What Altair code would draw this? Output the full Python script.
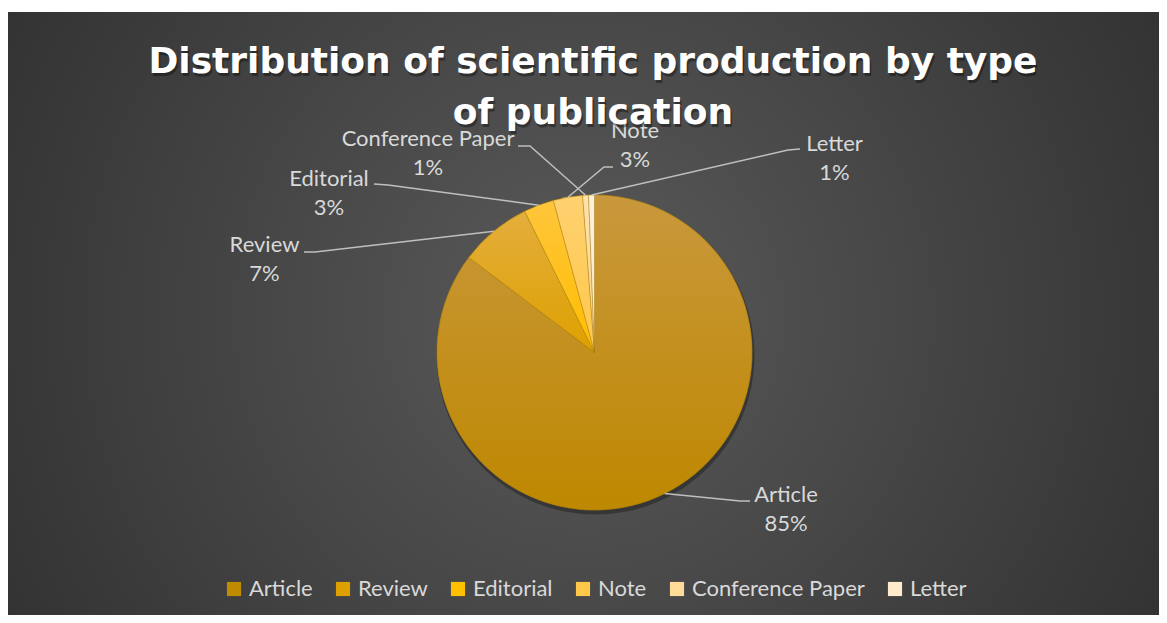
import math
import altair as alt
import pandas as pd

# ---------------- data ----------------
categories = ["Article", "Review", "Editorial", "Note", "Conference Paper", "Letter"]
shares = [85.3, 7.4, 3.1, 3.0, 0.6, 0.6]          # percent of publications
title_lines = ["Distribution of scientific production by type", "of publication"]

# ---------------- styles / layout ----------------
W, H = 1151, 607
CX, CY = 586.5, 344.5
R = 157.5
FONT = "Lato"
TXT = "#D9D9D9"
LINE = "#BFBFBF"
FS = 22

legend_colors = ["#BF8B00", "#DEA000", "#FFC000", "#FFC84A", "#FFDB9A", "#FFEBCC"]
slice_grad = {
    "Article": ("#C9983C", "#BE8800"),
    "Review": ("#E3AE3C", "#DEA000"),
    "Editorial": ("#FFC53C", "#FFBE00"),
    "Note": ("#FFD170", "#FFC84A"),
    "Conference Paper": ("#FFE2AC", "#FFD88F"),
    "Letter": ("#FFF1DA", "#FFE7C0"),
}
# label placement relative to pie centre: (text x, name baseline y)
label_pos = {
    "Article": (191.5, 149.5),
    "Review": (-330.0, -100.5),
    "Editorial": (-265.5, -166.5),
    "Conference Paper": (-166.5, -206.5),
    "Note": (40.5, -214.5),
    "Letter": (240.0, -201.5),
}
# leader line: elbow and end points relative to pie centre
leader = {
    "Article": [(145.5, 148.5), (155.5, 148.5)],
    "Review": [(-279.5, -100.5), (-290.5, -100.5)],
    "Editorial": [(-206.5, -167.5), (-220.5, -168.5)],
    "Conference Paper": [(-64.5, -206.5), (-76.5, -206.5)],
    "Note": [(9.5, -185.5), (18.5, -185.5)],
    "Letter": [(193.5, -202.5), (205.5, -203.5)],
}
LINE_H = 29

# ---------------- derived tables ----------------
total = sum(shares)
ends, acc = [], 0.0
for s in shares:
    acc += s
    ends.append(acc)
starts = [e - s for e, s in zip(ends, shares)]
pct = [f"{int(math.floor(s / total * 100 + 0.5))}%" for s in shares]

df = pd.DataFrame({"type": categories, "start": starts, "end": ends, "pct": pct})

line_rows, lab_rows = [], []
for cat, st, en in zip(categories, starts, ends):
    a = 2 * math.pi * ((st + en) / 2) / total
    sx, sy = CX + R * math.sin(a), CY - R * math.cos(a)
    pts = [(sx, sy)] + [(CX + dx, CY + dy) for dx, dy in leader[cat]]
    for i, (px, py) in enumerate(pts):
        line_rows.append({"type": cat, "pt": i, "x": px, "y": py})
    lx, ly = label_pos[cat]
    lab_rows.append({"type": cat, "pct": pct[categories.index(cat)],
                     "x": CX + lx, "y": CY + ly, "y2": CY + ly + LINE_H})
lines_df = pd.DataFrame(line_rows)
labels_df = pd.DataFrame(lab_rows)

xs = alt.Scale(domain=[0, W], nice=False, zero=False)
ys = alt.Scale(domain=[0, H], nice=False, zero=False, reverse=True)
th_scale = alt.Scale(domain=[0, total])

# ---------------- layers ----------------
bg = alt.Chart(pd.DataFrame({"a": [0]})).mark_rect(
    fill=alt.Gradient(
        gradient="radial",
        stops=[alt.GradientStop(offset=0, color="#5A5A5A"),
               alt.GradientStop(offset=1, color="#262626")],
        x1=0.5, y1=0.5, r1=0, x2=0.5, y2=0.5, r2=0.75,
    )
).encode(x=alt.value(0), x2=alt.value(W), y=alt.value(4), y2=alt.value(H))

shadow = alt.Chart(pd.DataFrame({"a": [0]})).mark_arc(
    radius=R + 1.5, fill="#000000", opacity=0.3, theta=0, theta2=2 * math.pi
).encode(x=alt.value(CX + 1), y=alt.value(CY + 3))

base_arcs = alt.Chart(df).mark_arc(radius=R, stroke="#A07810", strokeWidth=0.6).encode(
    theta=alt.Theta("start:Q", stack=None, scale=th_scale),
    theta2="end:Q",
    color=alt.Color(
        "type:N",
        scale=alt.Scale(domain=categories, range=legend_colors),
        legend=alt.Legend(
            title=None, orient="none", direction="horizontal", columns=6,
            legendX=215, legendY=570, padding=0,
            symbolType="square", symbolSize=200, symbolStrokeWidth=0,
            labelFont=FONT, labelFontSize=FS, labelColor=TXT, labelLimit=400,
            labelOffset=4, columnPadding=19,
        ),
    ),
    x=alt.value(CX), y=alt.value(CY),
)

grad_layers = []
for cat in categories:
    top, bot = slice_grad[cat]
    grad_layers.append(
        alt.Chart(df).transform_filter(alt.datum.type == cat).mark_arc(
            radius=R, stroke="#A07810", strokeWidth=0.6, strokeOpacity=0.7,
            fill=alt.Gradient(
                gradient="linear",
                stops=[alt.GradientStop(offset=0, color=top),
                       alt.GradientStop(offset=1, color=bot)],
                x1=0, y1=0, x2=0, y2=1,
            ),
        ).encode(
            theta=alt.Theta("start:Q", stack=None, scale=th_scale),
            theta2="end:Q",
            x=alt.value(CX), y=alt.value(CY),
        )
    )

leaders = alt.Chart(lines_df).mark_line(color=LINE, strokeWidth=1.5).encode(
    x=alt.X("x:Q", scale=xs, axis=None),
    y=alt.Y("y:Q", scale=ys, axis=None),
    detail="type:N",
    order="pt:Q",
)

names = alt.Chart(labels_df).mark_text(
    font=FONT, fontSize=FS, color=TXT, align="center", baseline="alphabetic"
).encode(x=alt.X("x:Q", scale=xs, axis=None), y=alt.Y("y:Q", scale=ys, axis=None), text="type:N")

pcts = alt.Chart(labels_df).mark_text(
    font=FONT, fontSize=FS, color=TXT, align="center", baseline="alphabetic"
).encode(x=alt.X("x:Q", scale=xs, axis=None), y=alt.Y("y2:Q", scale=ys, axis=None), text="pct:N")

title_layers = []
for i, t in enumerate(title_lines):
    tdf = pd.DataFrame({"t": [t]})
    ty = 65 + i * 51
    title_layers.append(
        alt.Chart(tdf).mark_text(font="DejaVu Sans", fontSize=36, fontWeight="bold",
                                 color="#000000", opacity=0.35, align="center",
                                 baseline="alphabetic", dx=1.5, dy=2.5)
        .encode(x=alt.value(585), y=alt.value(ty), text="t:N")
    )
    title_layers.append(
        alt.Chart(tdf).mark_text(font="DejaVu Sans", fontSize=36, fontWeight="bold",
                                 color="#FFFFFF", align="center", baseline="alphabetic")
        .encode(x=alt.value(585), y=alt.value(ty), text="t:N")
    )

chart = alt.layer(bg, shadow, base_arcs, *grad_layers, leaders, names, pcts, *title_layers).properties(
    width=W, height=H, padding=0, autosize=alt.AutoSizeParams(type="none"),
    background="#FFFFFF",
).configure_view(stroke=None).resolve_scale(color="independent")

chart.save("out.html", embed_options={"renderer": "svg", "actions": False})
